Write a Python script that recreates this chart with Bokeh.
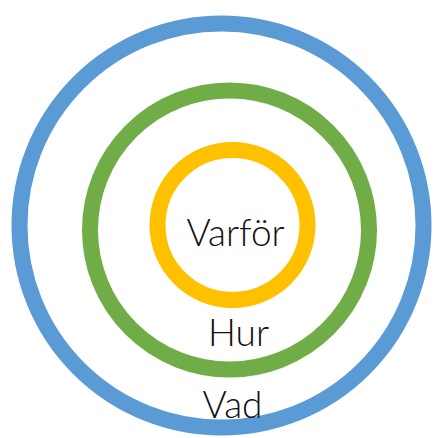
from bokeh.plotting import figure
from bokeh.models import Range1d
from bokeh.core.properties import value
from bokeh.embed import file_html
from bokeh.resources import INLINE

# Rings (outer to inner)
ring_names = ["Vad", "Hur", "Varför"]
ring_cx = [221, 229, 232]
ring_cy = [225, 229.5, 224.5]
ring_r = [202, 139.5, 75]
ring_colors = ["#5B9BD5", "#70AD47", "#FFC000"]

# Labels (vertical centre of capitals)
label_x = [232, 238, 235]
label_y = [403, 331, 231]

p = figure(width=437, height=438, output_backend="svg", toolbar_location=None,
           x_range=Range1d(0, 437), y_range=Range1d(438, 0), min_border=0)
p.axis.visible = False
p.grid.visible = False
p.outline_line_color = None
p.background_fill_color = "white"

p.circle(x=ring_cx, y=ring_cy, radius=ring_r, fill_color=None,
         line_color=ring_colors, line_width=16)

p.text(x=label_x, y=label_y, text=ring_names, text_align="center",
       text_baseline="middle", text_font=value("Lato Light"),
       text_font_size="37px", text_color="#111111")

open("out.html", "w").write(file_html(p, INLINE))
